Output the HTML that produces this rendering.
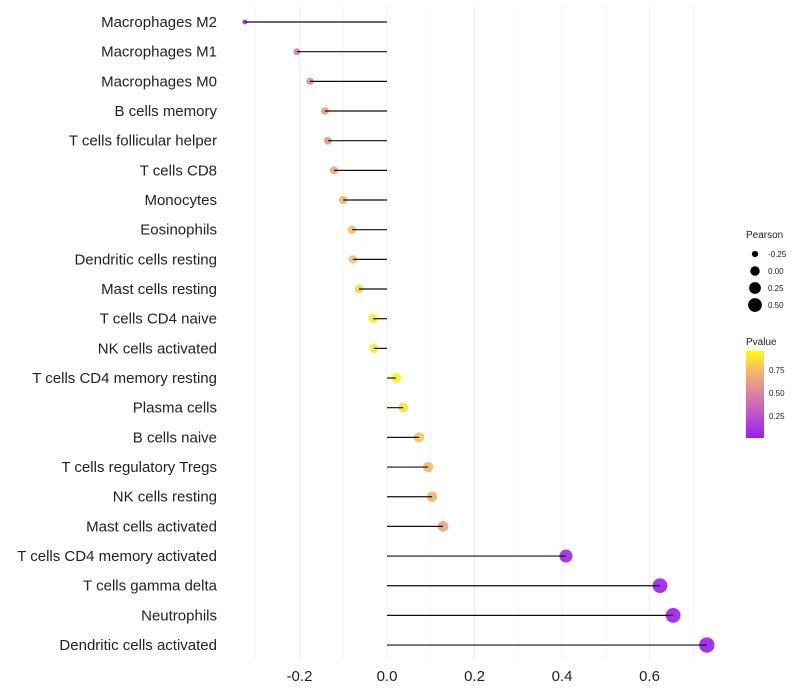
<!DOCTYPE html>
<html><head><meta charset="utf-8"><style>
body{margin:0;background:#fff;}
svg{display:block;font-family:"Liberation Sans",sans-serif;}
</style></head><body>
<svg id="chart" width="800" height="700">
<defs><linearGradient id="pg" x1="0" y1="1" x2="0" y2="0">
<stop offset="0" stop-color="#9b1cf5"/><stop offset="0.3" stop-color="#c05ac8"/><stop offset="0.55" stop-color="#e08a9a"/><stop offset="0.8" stop-color="#f5c060"/><stop offset="1" stop-color="#ffff00"/></linearGradient></defs>
<g id="grid"></g><g id="marks"></g><g id="labels"></g>
</svg>
<script>
const categories=["Macrophages M2","Macrophages M1","Macrophages M0","B cells memory","T cells follicular helper","T cells CD8","Monocytes","Eosinophils","Dendritic cells resting","Mast cells resting","T cells CD4 naive","NK cells activated","T cells CD4 memory resting","Plasma cells","B cells naive","T cells regulatory  Tregs ","NK cells resting","Mast cells activated","T cells CD4 memory activated","T cells gamma delta","Neutrophils","Dendritic cells activated"];
const pearson=[-0.325,-0.206,-0.176,-0.142,-0.135,-0.121,-0.10,-0.08,-0.078,-0.064,-0.032,-0.030,0.021,0.037,0.073,0.094,0.103,0.128,0.409,0.624,0.654,0.731];
const pvalue=[0.1,0.48,0.55,0.64,0.62,0.68,0.75,0.8,0.8,0.86,0.96,0.94,0.97,0.9,0.8,0.76,0.74,0.68,0.03,0.005,0.003,0.001];
const xTicks=[-0.2,0,0.2,0.4,0.6];
const xTickLabels=["-0.2","0.0","0.2","0.4","0.6"];
const NS="http://www.w3.org/2000/svg";
const x=v=>387+v*437.5;
const y=i=>22+i*29.67;
const r=v=>Math.sqrt(6+50*(v+0.325));
function col(p){const st=[[0,[155,28,245]],[0.3,[192,90,200]],[0.55,[224,138,154]],[0.8,[245,192,96]],[1,[255,255,0]]];
for(let k=1;k<st.length;k++){if(p<=st[k][0]){const a=st[k-1],b=st[k],t=(p-a[0])/(b[0]-a[0]);return `rgb(${a[1].map((c,j)=>Math.round(c+(b[1][j]-c)*t)).join(',')})`;}}return "rgb(255,255,0)";}
function mk(tag,at,parent,txt){const e=document.createElementNS(NS,tag);for(const k in at)e.setAttribute(k,at[k]);if(txt!==undefined)e.textContent=txt;document.getElementById(parent).appendChild(e);return e;}
for(let k=-3;k<=7;k++){const v=k/10;const g=mk('line',{x1:x(v),x2:x(v),y1:5,y2:660,stroke:'#f0f0f0','stroke-width':k%2===0?1:0.6},'grid');

}
xTicks.forEach((v,i)=>{const t=mk('text',{x:x(v),y:681,'text-anchor':'middle','font-size':15,fill:'#222'},'labels',xTickLabels[i]);

});
categories.forEach((c,i)=>{
const t=mk('text',{x:217,y:y(i)+5,'text-anchor':'end','font-size':15,fill:'#222'},'labels',c);


const p=mk('circle',{cx:x(pearson[i]),cy:y(i),r:r(pearson[i]),fill:col(pvalue[i]),'fill-opacity':0.9},'marks');


const l=mk('line',{x1:x(0),x2:x(pearson[i]),y1:y(i),y2:y(i),stroke:'#111','stroke-width':1.2},'marks');


});
const legendVals=[-0.25,0,0.25,0.5];
let lt=mk('text',{x:746,y:238,'font-size':10,fill:'#222'},'labels','Pearson');


legendVals.forEach((v,i)=>{const cy=254+i*17;
const c=mk('circle',{cx:755,cy:cy,r:r(v),fill:'#000'},'labels');


const t=mk('text',{x:768,y:cy+3,'font-size':8,fill:'#222'},'labels',v.toFixed(2));

});
lt=mk('text',{x:746,y:345,'font-size':10,fill:'#222'},'labels','Pvalue');


const bar=mk('rect',{x:746,y:351,width:18,height:87,fill:'url(#pg)'},'labels');


[0.75,0.5,0.25].forEach((v,i)=>{const yy=370+i*23;
const t=mk('text',{x:769,y:yy+3,'font-size':8,fill:'#222'},'labels',v.toFixed(2));

});
</script>
</body></html>
